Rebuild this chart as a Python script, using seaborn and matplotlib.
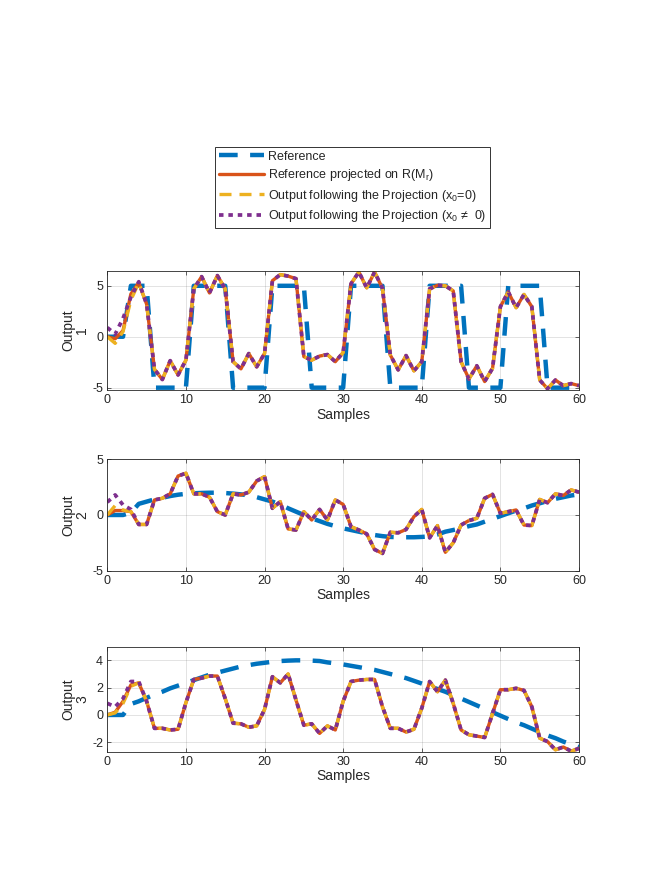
import numpy as np
import pandas as pd
import matplotlib
matplotlib.use("Agg")
import matplotlib.pyplot as plt
import seaborn as sns

samples = list(range(61))

# reference signals (blue dashed)
ref1 = [0, 0, 0, 5, 5, 5, -5, -5, -5, -5, -5, 5, 5, 5, 5, 5, -5, -5, -5, -5, -5,
        5, 5, 5, 5, 5, -5, -5, -5, -5, -5, 5, 5, 5, 5, 5, -5, -5, -5, -5, -5,
        5, 5, 5, 5, 5, -5, -5, -5, -5, -5, 5, 5, 5, 5, 5, -5, -5, -5, -5, -5]
ref2 = [0, 0, 0, 0.2, 1.0, 1.2, 1.4, 1.55, 1.7, 1.82, 1.9, 1.95, 1.98, 2.0, 2.0,
        1.97, 1.92, 1.85, 1.77, 1.6, 1.4, 1.2, 0.95, 0.6, 0.3, 0.0, -0.3, -0.55,
        -0.8, -1.0, -1.2, -1.35, -1.5, -1.65, -1.8, -1.9, -1.97, -2.0, -2.0, -2.0,
        -1.97, -1.92, -1.75, -1.5, -1.35, -1.2, -1.0, -0.85, -0.6, -0.35, -0.1,
        0.15, 0.4, 0.6, 0.85, 1.05, 1.25, 1.45, 1.6, 1.75, 1.85]
ref3 = [0, 0, 0, 0.8, 1.0, 1.25, 1.5, 1.7, 1.95, 2.15, 2.35, 2.55, 2.75, 2.95, 3.1,
        3.25, 3.4, 3.55, 3.65, 3.75, 3.82, 3.9, 3.95, 3.98, 4.0, 4.0, 3.98, 3.95,
        3.85, 3.78, 3.7, 3.6, 3.5, 3.4, 3.3, 3.15, 3.0, 2.85, 2.7, 2.5, 2.3, 2.1,
        1.9, 1.7, 1.45, 1.2, 0.95, 0.7, 0.45, 0.2, -0.05, -0.3, -0.55, -0.75, -1.0,
        -1.25, -1.5, -1.7, -1.95, -2.15, -2.35]

# reference projected on R(M_r) (orange)
proj1 = [0, -0.2, 0.6, 4.2, 5.3, 3.2, -3.2, -4.2, -2.35, -3.75, -2.3, 4.7, 5.9, 4.3,
         6.0, 4.7, -2.45, -3.15, -1.65, -2.95, -1.65, 5.5, 6.1, 5.95, 5.7, -1.95,
         -2.3, -1.9, -1.75, -2.45, -1.55, 5.2, 6.35, 4.8, 6.35, 4.75, -1.8, -3.25,
         -1.85, -3.35, -2.45, 4.7, 5.05, 5.0, 4.5, -2.45, -4.15, -2.85, -4.4, -3.1,
         2.95, 4.4, 2.85, 4.15, 2.95, -4.25, -5.1, -4.25, -4.8, -4.6, -4.8]
proj2 = [0, 0.4, 0.4, 0.3, -0.85, -0.85, 1.35, 1.5, 1.9, 3.5, 3.75, 1.9, 1.9, 1.6,
         0.3, 0.0, 1.9, 1.8, 2.05, 3.05, 3.45, 0.6, 1.2, -1.25, -1.35, 0.3, -0.45,
         0.5, -0.45, 1.35, 0.95, -1.05, -1.35, -1.7, -3.1, -3.45, -1.55, -1.6, -1.3,
         -0.15, 0.5, -2.05, -0.95, -3.35, -2.5, -0.9, -0.5, -0.3, 1.5, 1.85, 0.15,
         0.3, 0.45, -0.9, -0.95, 1.4, 1.1, 1.9, 1.75, 2.25, 2.05]
proj3 = [0, 0.2, 1.0, 2.2, 2.35, 1.0, -0.98, -0.98, -1.1, -1.05, 0.9, 2.6, 2.7, 2.85,
         2.85, 1.2, -0.6, -0.65, -0.9, -0.8, 0.4, 2.8, 2.35, 3.0, 1.1, -0.75, -0.65,
         -1.35, -0.8, -1.1, 1.0, 2.45, 2.55, 2.6, 2.6, 0.6, -0.98, -0.98, -1.25,
         -1.05, 0.5, 2.45, 1.7, 2.55, 0.85, -1.1, -1.45, -1.55, -1.65, 0.1, 1.85,
         1.85, 1.95, 1.8, 0.6, -1.7, -1.95, -2.55, -2.35, -2.65, -2.45]

# first samples where the outputs differ from the projected reference
out0_head1 = [0, -0.65, 0.5, 3.6]
out0_head2 = [0, 0.85, 0.45]
out0_head3 = [0, 0.15, 0.85, 2.1]
outx_head1 = [0.9, 0.25, 1.8, 3.9, 5.4]
outx_head2 = [1.15, 1.8, 0.9, 0.5]
outx_head3 = [0.85, 0.6, 1.2, 2.45, 2.45]

refs = [ref1, ref2, ref3]
projs = [proj1, proj2, proj3]
out0 = [h + p[len(h):] for h, p in zip([out0_head1, out0_head2, out0_head3], projs)]
outx = [h + p[len(h):] for h, p in zip([outx_head1, outx_head2, outx_head3], projs)]

ylims = [(-5.23, 6.45), (-5, 5), (-2.69, 5.0)]
yticks = [[-5, 0, 5], [-5, 0, 5], [-2, 0, 2, 4]]
positions = [[0.1616, 0.5598, 0.7104, 0.1343],
             [0.1616, 0.3559, 0.7104, 0.1257],
             [0.1616, 0.1516, 0.7104, 0.1185]]

labels = ["Reference",
          "Reference projected on R(M$_r$)",
          "Output following the Projection (x$_0$=0)",
          "Output following the Projection (x$_0$ \u2260  0)"]

sns.set_theme(style="ticks")
plt.rcParams['font.family'] = ['Liberation Sans', 'DejaVu Sans']
plt.rcParams['mathtext.default'] = 'regular'
plt.rcParams['axes.unicode_minus'] = False

c_blue = "#0072BD"
c_orange = "#D95319"
c_yellow = "#EDB120"
c_purple = "#7E2F8E"
dark = "#262626"

fig = plt.figure(figsize=(6.64, 8.86), dpi=100)

for i in range(3):
    ax = fig.add_axes(positions[i])
    df = pd.DataFrame({"k": samples, "ref": refs[i], "proj": projs[i],
                       "out0": out0[i], "outx": outx[i]})
    sns.lineplot(data=df, x="k", y="ref", ax=ax, color=c_blue, linewidth=3.2,
                 linestyle=(0, (4.2, 2.8)), label=labels[0])
    sns.lineplot(data=df, x="k", y="proj", ax=ax, color=c_orange, linewidth=2.4,
                 label=labels[1])
    sns.lineplot(data=df, x="k", y="out0", ax=ax, color=c_yellow, linewidth=2.4,
                 linestyle=(0, (3.6, 2.4)), label=labels[2])
    sns.lineplot(data=df, x="k", y="outx", ax=ax, color=c_purple, linewidth=2.7,
                 linestyle=(0, (1.2, 1.3)), label=labels[3])

    ax.set_xlim(0, 60)
    ax.set_ylim(*ylims[i])
    ax.set_xticks(range(0, 61, 10))
    ax.set_yticks(yticks[i])
    ax.grid(True, color=dark, alpha=0.15, linewidth=0.6)
    ax.tick_params(direction="in", top=True, right=True, length=3, width=0.5,
                   labelsize=9, colors=dark, pad=3)
    for sp in ax.spines.values():
        sp.set_color(dark)
        sp.set_linewidth(0.6)
    ax.set_xlabel("Samples", fontsize=10, color=dark, labelpad=1)
    ax.set_ylabel("Output\n" + str(i + 1), fontsize=10, color=dark, labelpad=2,
                  linespacing=1.0)
    if i == 0:
        handles, labs = ax.get_legend_handles_labels()
    ax.get_legend().remove()

leg = fig.legend(handles, labs, loc="upper center",
                 bbox_to_anchor=(0.531, 0.834), fontsize=9, frameon=True,
                 fancybox=False, edgecolor="black", handlelength=3.6,
                 borderpad=0.3, labelspacing=0.35, handletextpad=0.3,
                 borderaxespad=0)
leg.get_frame().set_linewidth(0.7)
for t in leg.get_texts():
    t.set_color(dark)

plt.savefig("out.png", dpi=100)
